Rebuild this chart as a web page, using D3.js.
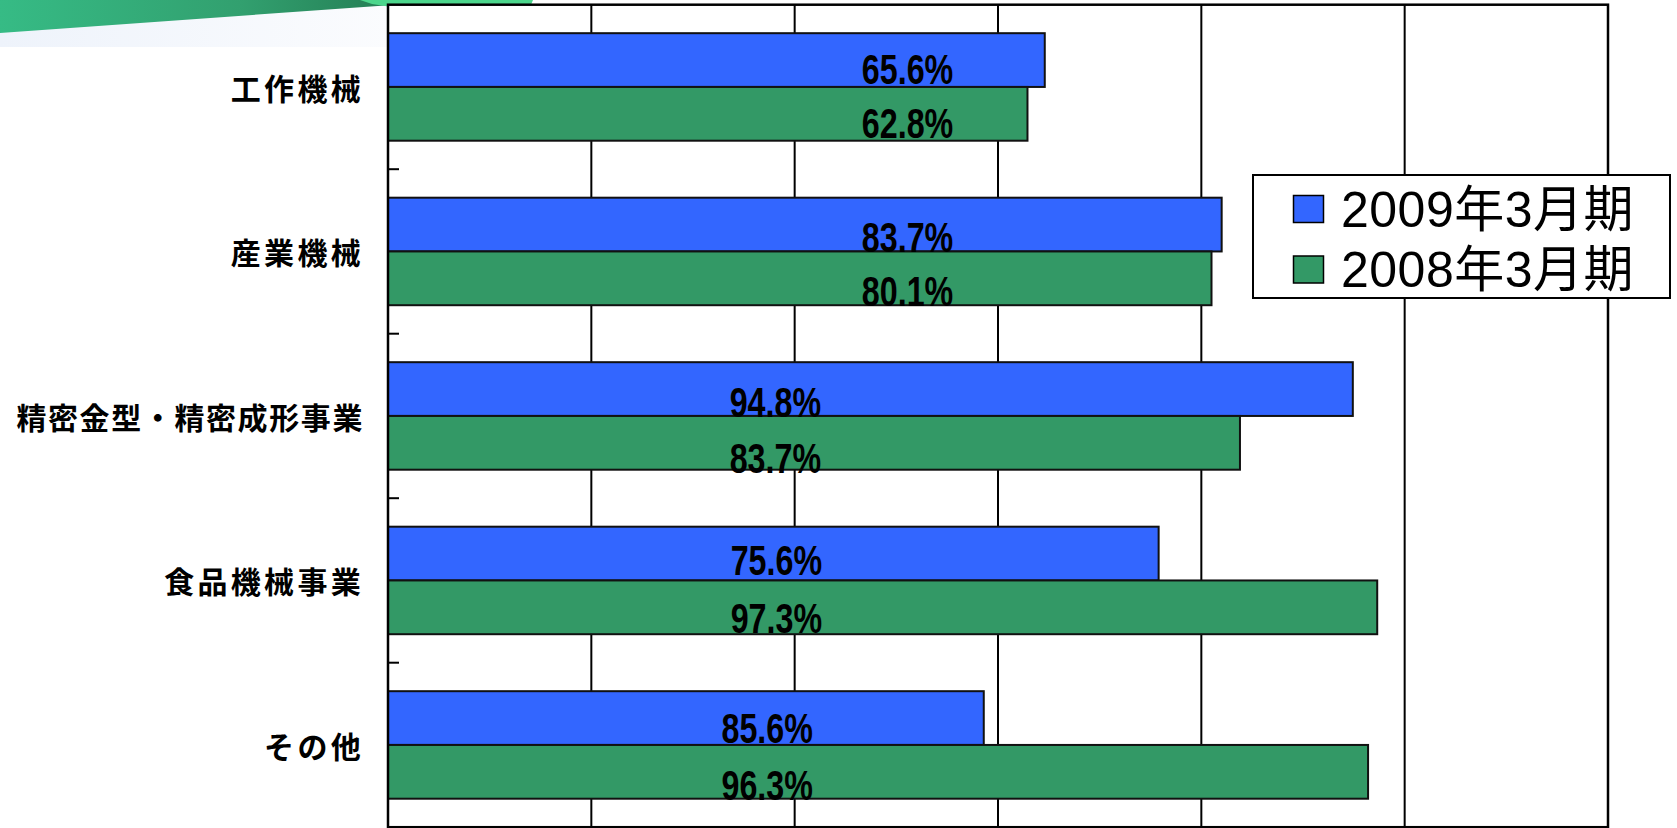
<!DOCTYPE html>
<html>
<head>
<meta charset="utf-8">
<script src="https://cdn.jsdelivr.net/npm/d3@7"></script>
<style>
  html, body { margin: 0; padding: 0; background: #ffffff; }
  svg { display: block; }
</style>
</head>
<body>
<svg id="chart" width="1677" height="828"></svg>
<script>
// ---- data ----
const categories = ["工作機械", "産業機械", "精密金型・精密成形事業", "食品機械事業", "その他"];
const seriesNames = ["2009年3月期", "2008年3月期"];
// bar lengths as drawn in the picture (percent)
const values2009 = [64.6, 82.0, 94.9, 75.8, 58.6];
const values2008 = [62.9, 81.0, 83.8, 97.3, 96.4];
// label texts printed on the bars
const labels2009 = ["65.6%", "83.7%", "94.8%", "75.6%", "85.6%"];
const labels2008 = ["62.8%", "80.1%", "83.7%", "97.3%", "96.3%"];
const xTicks = [0, 20, 40, 60, 80, 100, 120];

// ---- layout (not data) ----
const labelAnchor = [51.1, 51.1, 38.1, 38.2, 37.3];   // label centre, in axis units
const labelDy2009 = [24, 27.5, 28, 21, 25];
const labelDy2008 = [24, 27.5, 30, 25.7, 28];
const colors = { "2009年3月期": "#3366ff", "2008年3月期": "#339966" };

const svg = d3.select("#chart");
const pLeft = 388, pRight = 1608, pTop = 4.7, pBottom = 827.2;

const x = d3.scaleLinear().domain([0, 120]).range([pLeft, pRight]);
const y0 = d3.scaleBand().domain(categories).range([pTop, pBottom]).padding(0);
const y1 = d3.scaleBand().domain(seriesNames).range([0, y0.bandwidth()])
  .paddingInner(0).paddingOuter(0.53);

// ---- decorative swoosh at top-left ----
const defs = svg.append("defs");
const g1 = defs.append("linearGradient").attr("id", "swoosh").attr("x1", "0").attr("x2", "1");
g1.append("stop").attr("offset", "0").attr("stop-color", "#36bb85");
g1.append("stop").attr("offset", "0.6").attr("stop-color", "#32a06f");
g1.append("stop").attr("offset", "1").attr("stop-color", "#237c53");
const g2 = defs.append("linearGradient").attr("id", "pale").attr("x1", "0").attr("x2", "1");
g2.append("stop").attr("offset", "0").attr("stop-color", "#eef3fb");
g2.append("stop").attr("offset", "1").attr("stop-color", "#fbfcfe");

svg.append("path").attr("d", "M0,0 L392,0 L392,47 L0,47 Z").attr("fill", "url(#pale)");
svg.append("path").attr("d", "M0,0 L400,0 L392,5 L0,33 Z").attr("fill", "url(#swoosh)");
svg.append("path").attr("d", "M360,0 L533,0 L522,27 L372,4 Z").attr("fill", "#4cd68c");
svg.append("rect").attr("x", pLeft).attr("y", pTop).attr("width", pRight - pLeft).attr("height", pBottom - pTop)
  .attr("fill", "#ffffff");

// ---- gridlines ----
svg.append("g").selectAll("line").data(xTicks.slice(1, -1)).join("line")
  .attr("x1", d => x(d)).attr("x2", d => x(d))
  .attr("y1", pTop).attr("y2", pBottom)
  .attr("stroke", "#000").attr("stroke-width", 2);

// ---- bars ----
const rows = categories.map((c, i) => ({
  cat: c,
  bars: [
    { s: seriesNames[0], v: values2009[i], label: labels2009[i], dy: labelDy2009[i], anchor: labelAnchor[i] },
    { s: seriesNames[1], v: values2008[i], label: labels2008[i], dy: labelDy2008[i], anchor: labelAnchor[i] }
  ]
}));

const groups = svg.append("g").selectAll("g").data(rows).join("g")
  .attr("transform", d => `translate(0,${y0(d.cat)})`);

groups.selectAll("rect").data(d => d.bars).join("rect")
  .attr("x", x(0))
  .attr("y", d => y1(d.s))
  .attr("width", d => x(d.v) - x(0))
  .attr("height", y1.bandwidth())
  .attr("fill", d => colors[d.s])
  .attr("stroke", "#111").attr("stroke-width", 2);

// ---- frame ----
svg.append("rect").attr("x", pLeft).attr("y", pTop).attr("width", pRight - pLeft).attr("height", pBottom - pTop)
  .attr("fill", "none").attr("stroke", "#000").attr("stroke-width", 2.5);

// ---- left axis ticks (band boundaries, drawn inward) ----
svg.append("g").selectAll("line").data(categories.slice(1)).join("line")
  .attr("x1", pLeft).attr("x2", pLeft + 11)
  .attr("y1", d => y0(d)).attr("y2", d => y0(d))
  .attr("stroke", "#000").attr("stroke-width", 2);

// ---- value labels ----
groups.selectAll("text").data(d => d.bars).join("text")
  .attr("transform", d => `translate(${x(d.anchor)},${y1(d.s) + y1.bandwidth() / 2 + d.dy}) scale(0.75,1)`)
  .attr("text-anchor", "middle")
  .attr("font-family", "'Liberation Sans', Arial, sans-serif")
  .attr("font-weight", "bold")
  .attr("font-size", 43)
  .attr("fill", "#000")
  .text(d => d.label);

// ---- category labels ----
const catText = svg.append("g").selectAll("text").data(categories).join("text")
  .attr("x", 364)
  .attr("y", d => y0(d) + y0.bandwidth() / 2 + 13)
  .attr("text-anchor", "end")
  .attr("font-family", "'Noto Sans CJK JP', sans-serif")
  .attr("font-weight", "bold")
  .attr("font-size", 30)
  .attr("letter-spacing", 3.3)
  .attr("fill", "#000")
  .text(d => d);
// the long label is drawn a little tighter, as in the original
catText.filter(d => d.length > 8)
  .attr("letter-spacing", 1.6);

// ---- legend ----
const lg = svg.append("g");
lg.append("rect").attr("x", 1253).attr("y", 175).attr("width", 417).attr("height", 123)
  .attr("fill", "#fff").attr("stroke", "#000").attr("stroke-width", 2);
const items = lg.selectAll("g").data(seriesNames).join("g")
  .attr("transform", (d, i) => `translate(0,${i * 60.5})`);
items.append("rect").attr("x", 1293.5).attr("y", 195.5).attr("width", 30).attr("height", 27)
  .attr("fill", d => colors[d]).attr("stroke", "#000").attr("stroke-width", 1.5);
items.append("text").attr("x", 1341).attr("y", 226.5)
  .attr("font-family", "'Liberation Sans', 'Noto Sans CJK JP', sans-serif")
  .attr("font-size", 50)
  .attr("letter-spacing", 0.5)
  .attr("fill", "#000")
  .text(d => d);
</script>
</body>
</html>
